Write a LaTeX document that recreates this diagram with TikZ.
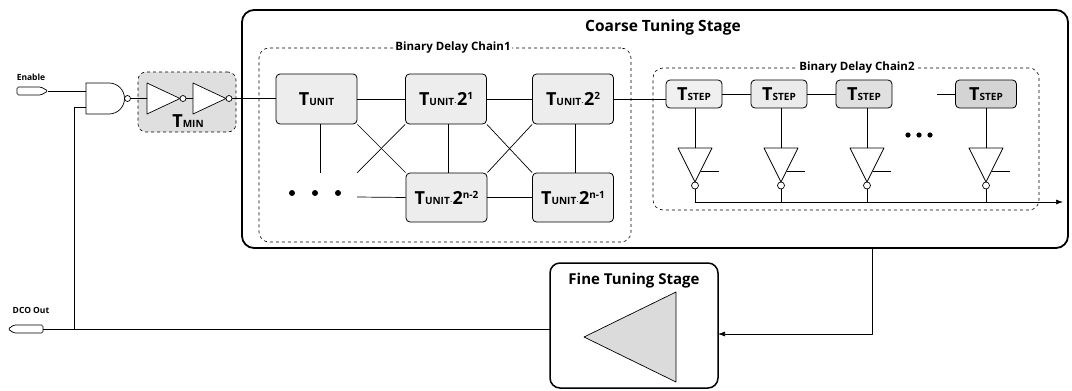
\documentclass[tikz,border=0pt]{standalone}
\usepackage{fontspec}
\setmainfont{Open Sans}
\usetikzlibrary{arrows.meta}
\newcommand\BigT{{\fontsize{18}{18}\selectfont T}}
\newcommand\sml[1]{{\fontsize{10}{10}\selectfont #1}}
\newcommand\TUNIT{\BigT\sml{UNIT}}
\newcommand\TSTEP{\BigT\sml{STEP}}
\newcommand\tpow[1]{{\fontsize{18}{18}\selectfont 2}\raisebox{6pt}{\sml{#1}}}
\begin{document}
\begin{tikzpicture}[x=1pt,y=-1pt,line join=round,
  wire/.style={line width=0.7pt},
  unitbox/.style={draw,line width=0.8pt,rounded corners=4pt,fill=gray!14,minimum width=81pt,minimum height=50pt,inner sep=0pt,font=\bfseries},
  stepbox/.style={draw,line width=0.8pt,rounded corners=4pt,minimum width=56pt,minimum height=28pt,inner sep=0pt,font=\bfseries},
  chainbox/.style={draw,dashed,line width=0.6pt,rounded corners=10pt,inner sep=0pt},
  stagebox/.style={draw,line width=1.8pt,rounded corners=12pt,inner sep=0pt},
  lbl/.style={inner sep=1pt},
  arr/.style={-{Latex[length=7pt,width=5pt]}}
]
\useasboundingbox (0,0) rectangle (1072,391);

% Coarse tuning stage
\node[stagebox,minimum width=826pt,minimum height=238pt] (coarse) at (655,129) {};
\node[lbl,font=\bfseries\fontsize{15.5}{16}\selectfont] (coarseT) at (663,27) {Coarse Tuning Stage};

% chains
\node[chainbox,minimum width=372pt,minimum height=194pt] (ch1) at (445,145) {};
\node[lbl,fill=white,font=\bfseries\fontsize{11.5}{12}\selectfont] (ch1T) at (453,48) {Binary Delay Chain1};
\node[chainbox,minimum width=386pt,minimum height=142pt] (ch2) at (846,139) {};
\node[lbl,fill=white,font=\bfseries\fontsize{11.5}{12}\selectfont] (ch2T) at (857,68) {Binary Delay Chain2};

% unit boxes
\node[unitbox] (u0) at (316.5,99) {\TUNIT};
\node[unitbox] (u1) at (446,99) {\TUNIT$\cdot$\tpow{1}};
\node[unitbox] (u2) at (573,99) {\TUNIT$\cdot$\tpow{2}};
\node[unitbox,minimum height=49pt] (u3) at (446.5,197.5) {\TUNIT$\cdot$\tpow{n-2}};
\node[unitbox,minimum height=49pt] (u4) at (573,197.5) {\TUNIT$\cdot$\tpow{n-1}};
\foreach \x in {292,315,338} \fill (\x,193) circle (3);
\coordinate (dotsE) at (357,197);
\coordinate (dotsNE) at (357,173);

\draw[wire] (u0) -- (u1);
\draw[wire] (u1) -- (u2);
\draw[wire] (u0.south -| 320,0) -- (320,173);
\draw[wire] (dotsE) -- (u3.west);
\draw[wire] (u3) -- (u4);
\draw[wire] (u1.south -| 448,0) -- (u3.north -| 448,0);
\draw[wire] (u2.south -| 575,0) -- (u4.north -| 575,0);
\draw[wire] (u0.south east) -- (u3.north west);
\draw[wire] (u1.south west) -- (dotsNE);
\draw[wire] (u1.south east) -- (u4.north west);
\draw[wire] (u2.south west) -- (u3.north east);

% step boxes
\node[stepbox,fill=gray!12] (s1) at (694,94) {\TSTEP};
\node[stepbox,fill=gray!16] (s2) at (779,94) {\TSTEP};
\node[stepbox,fill=gray!24] (s3) at (864,94) {\TSTEP};
\node[stepbox,fill=gray!34,minimum width=61pt] (s4) at (986,94) {\TSTEP};
\coordinate (s4in) at (937,94);
\draw[wire] (u2.east) -- (u2.east -| s1.west);
\draw[wire] (s1) -- (s2);
\draw[wire] (s2) -- (s3);
\draw[wire] (s4in) -- (s4);
\foreach \x in {908,919,930} \fill (\x,135) circle (2.6);

\foreach \n/\xc in {s1/695,s2/781,s3/867,s4/986}{
  \draw[wire] (\n.south -| \xc,0) -- (\xc,148);
  \draw[wire,fill=white] (\xc-17,148) -- (\xc+17,148) -- (\xc,182) -- cycle;
  \draw[wire,fill=white] (\xc,185.5) circle (3.5);
  \draw[wire] (\xc,189) -- (\xc,202);
  \draw[wire] (\xc+6,171) -- (\xc+24,171);
}
\coordinate (busL) at (695,202);
\coordinate (busR) at (1063,202);
\draw[wire,arr] (busL) -- (busR);

% fine tuning stage
\node[stagebox,line width=1.5pt,rounded corners=10pt,minimum width=168pt,minimum height=125pt] (fine) at (634,325.5) {};
\node[lbl,font=\bfseries\fontsize{15}{16}\selectfont] (fineT) at (634,281) {Fine Tuning Stage};
\filldraw[wire,fill=gray!28] (584,337) -- (676,292) -- (676,382) -- cycle;
\coordinate (cbot) at (872,248);
\coordinate (fineIn) at (718,334);
\coordinate (fineOut) at (550,329);
\draw[wire,arr] (cbot) |- (fineIn);

% DCO out
\draw[wire,rounded corners=1.5pt] (43,325) -- (14,325) -- (8,329) -- (14,333) -- (43,333) -- cycle;
\coordinate (dcoE) at (43,329);
\draw[wire] (dcoE) -- (fineOut);
\node[lbl,font=\bfseries\fontsize{8.5}{9}\selectfont] (dcoT) at (31,310) {DCO Out};

% Enable
\draw[wire,rounded corners=1.5pt] (17,87) -- (41,87) -- (48,91) -- (41,95) -- (17,95) -- cycle;
\coordinate (enE) at (48,91);
\node[lbl,font=\bfseries\fontsize{8.5}{9}\selectfont] (enT) at (31,77) {Enable};

% NAND
\draw[wire,fill=white] (86,83) -- (109,83) arc[start angle=-90,end angle=90,radius=15.5] -- (86,114) -- cycle;
\draw[wire,fill=white] (127.5,98.5) circle (3);
\coordinate (nandA) at (86,91);
\coordinate (nandB) at (86,107);
\coordinate (nandO) at (130.5,98.5);
\coordinate (fbJ) at (74,329);
\draw[wire] (enE) -- (nandA);
\draw[wire] (fbJ) |- (nandB);

% T_MIN
\node[draw,dashed,fill=gray!25,rounded corners=8pt,minimum width=98pt,minimum height=60pt,line width=0.6pt] (tmin) at (187,102) {};
\draw[wire,fill=white] (147,83) -- (180,98.5) -- (147,114) -- cycle;
\draw[wire,fill=white] (183,98.5) circle (3);
\draw[wire,fill=white] (193,83) -- (226,98.5) -- (193,114) -- cycle;
\draw[wire,fill=white] (229,98.5) circle (3);
\node[font=\bfseries,inner sep=0pt] (tminT) at (188,121) {\BigT\sml{MIN}};
\coordinate (b1i) at (147,98.5);
\coordinate (b1o) at (186,98.5);
\coordinate (b2i) at (193,98.5);
\coordinate (b2o) at (232,98.5);
\draw[wire] (nandO) -- (b1i);
\draw[wire] (b1o) -- (b2i);
\draw[wire] (b2o) -- (u0.west |- b2o);
\end{tikzpicture}
\end{document}
